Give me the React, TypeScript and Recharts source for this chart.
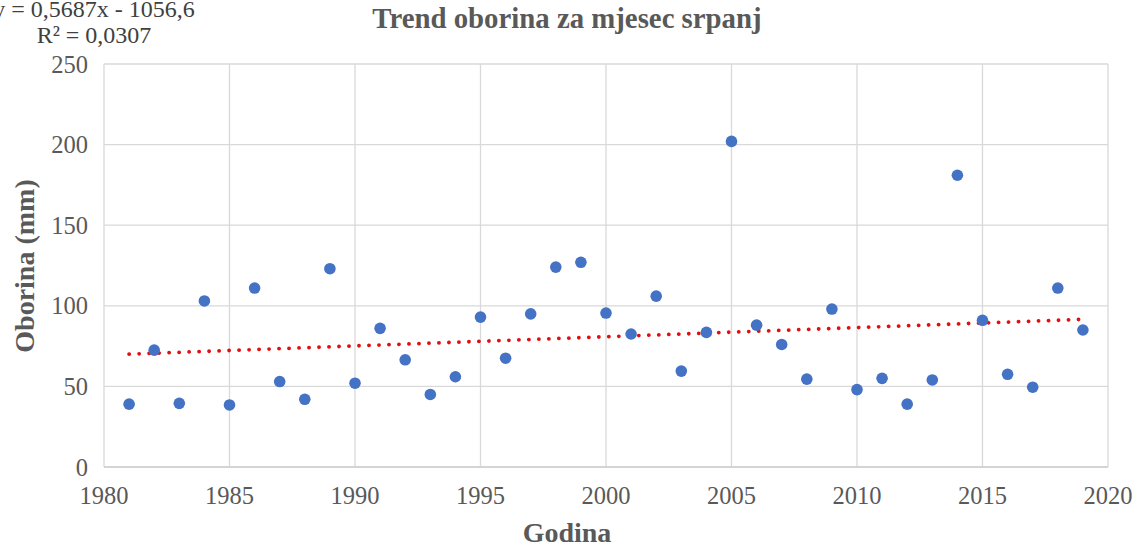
import React from "react";
import {
  ScatterChart,
  Scatter,
  XAxis,
  YAxis,
  CartesianGrid,
  ReferenceLine,
} from "recharts";

const years = [
  1981, 1982, 1983, 1984, 1985, 1986, 1987, 1988, 1989, 1990,
  1991, 1992, 1993, 1994, 1995, 1996, 1997, 1998, 1999, 2000,
  2001, 2002, 2003, 2004, 2005, 2006, 2007, 2008, 2009, 2010,
  2011, 2012, 2013, 2014, 2015, 2016, 2017, 2018, 2019,
];
const precipitation = [
  39, 72.5, 39.5, 103, 38.5, 111, 53, 42, 123, 52,
  86, 66.5, 45, 56, 93, 67.5, 95, 124, 127, 95.5,
  82.5, 106, 59.5, 83.5, 202, 88, 76, 54.5, 98, 48,
  55, 39, 54, 181, 91, 57.5, 49.5, 111, 85,
];
const trendYears = [1981, 2019];
const trendValues = [70.0, 91.6];
const xTicks = [1980, 1985, 1990, 1995, 2000, 2005, 2010, 2015, 2020];
const yTicks = [0, 50, 100, 150, 200, 250];

const title = "Trend oborina za mjesec srpanj";
const equation = "y = 0,5687x - 1056,6";
const rSquared = "R² = 0,0307";
const xTitle = "Godina";
const yTitle = "Oborina (mm)";

const data = years.map((y, i) => ({ year: y, value: precipitation[i] }));

const FONT = "'Liberation Serif', 'Times New Roman', serif";

const Dot = (props: any) => (
  <circle cx={props.cx} cy={props.cy} r={5.8} fill="#4472C4" />
);

export default function App() {
  return (
    <div style={{ position: "absolute", left: 0, top: 0, width: 1143, height: 550, background: "#fff" }}>
      <ScatterChart
        width={1143}
        height={550}
        margin={{ top: 64, right: 35, left: 0, bottom: 0 }}
        style={{ fontFamily: FONT }}
      >
        <CartesianGrid stroke="#d9d9d9" strokeWidth={1.3} />
        <XAxis
          type="number"
          dataKey="year"
          domain={[1980, 2020]}
          ticks={xTicks}
          interval={0}
          height={83}
          tickSize={0}
          tickMargin={20}
          axisLine={{ stroke: "#cfcfcf", strokeWidth: 1.3 }}
          tick={{ fill: "#595959", fontSize: 24.5, fontFamily: FONT }}
        />
        <YAxis
          type="number"
          dataKey="value"
          domain={[0, 250]}
          ticks={yTicks}
          interval={0}
          width={104}
          tickSize={0}
          tickMargin={16}
          axisLine={false}
          tick={{ fill: "#595959", fontSize: 24.5, fontFamily: FONT }}
        />
        <ReferenceLine
          segment={[
            { x: trendYears[0], y: trendValues[0] },
            { x: trendYears[1], y: trendValues[1] },
          ]}
          stroke="#e01010"
          strokeWidth={3.8}
          strokeDasharray="0.1 9.9"
          strokeLinecap="round"
          ifOverflow="visible"
        />
        <Scatter data={data} shape={Dot} isAnimationActive={false} />
      </ScatterChart>
      <svg
        width={1143}
        height={550}
        style={{ position: "absolute", left: 0, top: 0, pointerEvents: "none", fontFamily: FONT }}
      >
        <text x={567} y={28} textAnchor="middle" fontSize={28.8} fontWeight="bold" fill="#595959">
          {title}
        </text>
        <text x={94} y={17} textAnchor="middle" fontSize={24} fill="#404040">
          {equation}
        </text>
        <text x={94} y={43} textAnchor="middle" fontSize={24} fill="#404040">
          {rSquared}
        </text>
        <text x={567} y={542} textAnchor="middle" fontSize={28} fontWeight="bold" fill="#595959">
          {xTitle}
        </text>
        <text
          transform="translate(34,266) rotate(-90)"
          textAnchor="middle"
          fontSize={28}
          fontWeight="bold"
          fill="#595959"
        >
          {yTitle}
        </text>
      </svg>
    </div>
  );
}
